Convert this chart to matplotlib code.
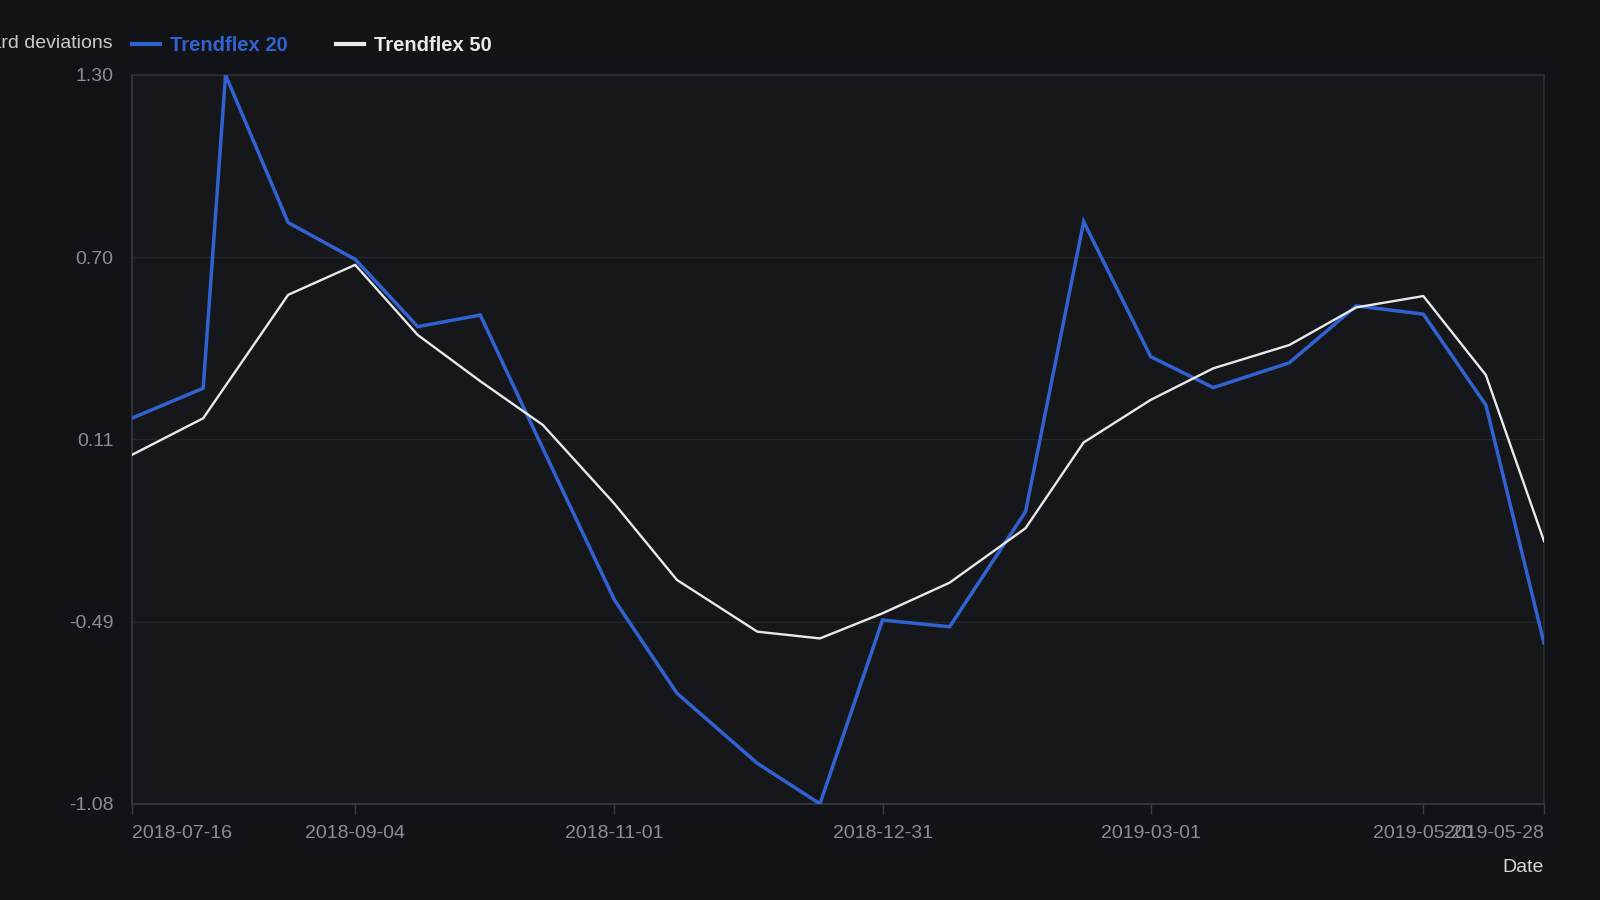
import matplotlib
matplotlib.use('Agg')
import matplotlib.pyplot as plt
import matplotlib.dates as mdates
import pandas as pd

# Trendflex readings (standard deviations), roughly twice a month
blue_dates = ['2018-07-16', '2018-08-01', '2018-08-06', '2018-08-20', '2018-09-04',
              '2018-09-18', '2018-10-02', '2018-10-16', '2018-11-01', '2018-11-15',
              '2018-12-03', '2018-12-17', '2018-12-31', '2019-01-15', '2019-02-01',
              '2019-02-14', '2019-03-01', '2019-03-15', '2019-04-01', '2019-04-16',
              '2019-05-01', '2019-05-15', '2019-05-28']
trendflex_20 = [0.179, 0.277, 1.30, 0.818, 0.698, 0.478, 0.516, 0.08, -0.414, -0.719,
                -0.948, -1.08, -0.480, -0.502, -0.126, 0.821, 0.380, 0.279, 0.360,
                0.546, 0.519, 0.222, -0.555]

white_dates = [d for d in blue_dates if d != '2018-08-06']
trendflex_50 = [0.059, 0.179, 0.582, 0.680, 0.451, 0.30, 0.157, -0.10, -0.349, -0.518,
                -0.540, -0.458, -0.358, -0.180, 0.100, 0.239, 0.342, 0.418, 0.541,
                0.578, 0.320, -0.222]

tick_dates = ['2018-07-16', '2018-09-04', '2018-11-01', '2018-12-31', '2019-03-01',
              '2019-05-01', '2019-05-28']
tick_labels = ['2018-07-16', '2018-09-04', '2018-11-01', '2018-12-31', '2019-03-01',
               '2019-05-20', '2019-05-28']

BG = '#121317'
PANEL = '#16171b'
BLUE = '#3063d1'
WHITE = '#e9e9e9'
GRID = '#24262a'
AXIS = '#393b40'
TICK_TXT = '#8b8d92'

plt.rcParams['font.family'] = ['Liberation Sans', 'DejaVu Sans']

fig = plt.figure(figsize=(16, 9), dpi=100, facecolor=BG)
ax = fig.add_axes([0.0823, 0.1069, 0.8827, 0.8098])
ax.set_facecolor(PANEL)

xb = pd.to_datetime(blue_dates)
xw = pd.to_datetime(white_dates)
ax.plot(xb, trendflex_20, color=BLUE, lw=2.5, label='Trendflex 20', zorder=3,
        solid_joinstyle='miter')
ax.plot(xw, trendflex_50, color=WHITE, lw=1.7, label='Trendflex 50', zorder=4)

ymin, ymax = min(trendflex_20), max(trendflex_20)
ax.set_ylim(ymin, ymax)
ax.set_xlim(xb[0], xb[-1])
yt = [ymin + i * (ymax - ymin) / 4 for i in range(5)]
ax.set_yticks(yt)
ax.set_yticklabels(['%.2f' % round(v, 2) for v in yt])
ax.yaxis.grid(True, color=GRID, lw=1)
ax.set_axisbelow(True)

ax.set_xticks(pd.to_datetime(tick_dates))
ax.set_xticklabels(tick_labels)
labs = ax.get_xticklabels()
labs[0].set_ha('left')
labs[-1].set_ha('right')

ax.tick_params(axis='y', length=0, pad=13, labelsize=14, labelcolor=TICK_TXT)
ax.tick_params(axis='x', length=7, width=1, color=AXIS, pad=8, labelsize=14,
               labelcolor=TICK_TXT)

for side in ['left', 'bottom']:
    ax.spines[side].set_color(AXIS)
    ax.spines[side].set_linewidth(1.2)
for side in ['top', 'right']:
    ax.spines[side].set_color('#2c2e33')
    ax.spines[side].set_linewidth(1.2)

leg = ax.legend(loc='center left', bbox_to_anchor=(0.0, 1.04), ncol=2,
                frameon=False, borderaxespad=0, borderpad=0, handlelength=1.4,
                handletextpad=0.5, columnspacing=2.4,
                prop={'size': 14.5, 'weight': 'bold'})
for line in leg.get_lines():
    line.set_linewidth(3)
for txt, col in zip(leg.get_texts(), [BLUE, WHITE]):
    txt.set_color(col)

fig.text(113 / 1600, 1 - 44 / 900, 'Standard deviations', ha='right', va='center',
         fontsize=14, color='#c9c9c9')
fig.text(1544 / 1600, 1 - 868 / 900, 'Date', ha='right', va='center',
         fontsize=14, color='#d8d8d8')

fig.savefig('out.png', dpi=100, facecolor=BG)
